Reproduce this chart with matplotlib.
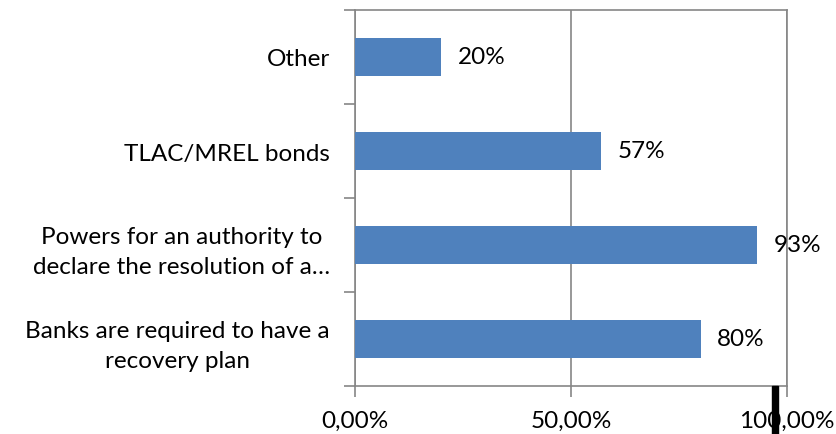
import matplotlib
matplotlib.use("Agg")
import matplotlib.pyplot as plt
from matplotlib.patches import Rectangle

categories = [
    "Banks are required to have a\nrecovery plan",
    "Powers for an authority to\ndeclare the resolution of a…",
    "TLAC/MREL bonds",
    "Other",
]
values = [0.80, 0.93, 0.57, 0.20]
value_labels = ["80%", "93%", "57%", "20%"]
x_ticks = [0.0, 0.5, 1.0]
x_tick_labels = ["0,00%", "50,00%", "100,00%"]

plt.rcParams["font.family"] = ["Lato", "DejaVu Sans"]
FS = 17.5
GRAY = "#868686"
BLUE = "#4F81BD"

fig = plt.figure(figsize=(8.37, 4.35), dpi=100)
ax = fig.add_axes([355 / 837, 1 - 387 / 435, (787 - 355) / 837, (387 - 11) / 435])

ypos = list(range(len(categories)))
ax.barh(ypos, values, height=0.4, color=BLUE, zorder=3)
for y, v, lab in zip(ypos, values, value_labels):
    ax.annotate(lab, (v, y), xytext=(12, 0), textcoords="offset points",
                ha="left", va="center", fontsize=FS, color="black", zorder=4)

ax.set_xlim(0, 1)
ax.set_ylim(-0.5, len(categories) - 0.5)

ax.set_xticks(x_ticks)
ax.set_xticklabels(x_tick_labels, fontsize=FS)
ax.set_yticks(ypos)
ax.set_yticklabels(categories, fontsize=FS, multialignment="center", linespacing=1.55)
ax.set_yticks([i - 0.5 for i in range(len(categories) + 1)], minor=True)

ax.tick_params(axis="y", which="major", length=0, pad=18)
ax.tick_params(axis="y", which="minor", length=8, color=GRAY, width=1.2, direction="out")
ax.tick_params(axis="x", which="major", length=8, color=GRAY, width=1.2, direction="out", pad=9)

ax.xaxis.grid(True, color=GRAY, linewidth=1.2, zorder=0)
for side in ["left", "bottom", "top", "right"]:
    ax.spines[side].set_color(GRAY)
    ax.spines[side].set_linewidth(1.2)

# black marker below the right end of the axis
fig.patches.append(Rectangle((772 / 837, 0), 6 / 837, 48 / 435,
                             transform=fig.transFigure, color="black", zorder=10))

fig.savefig("out.png", dpi=100)
